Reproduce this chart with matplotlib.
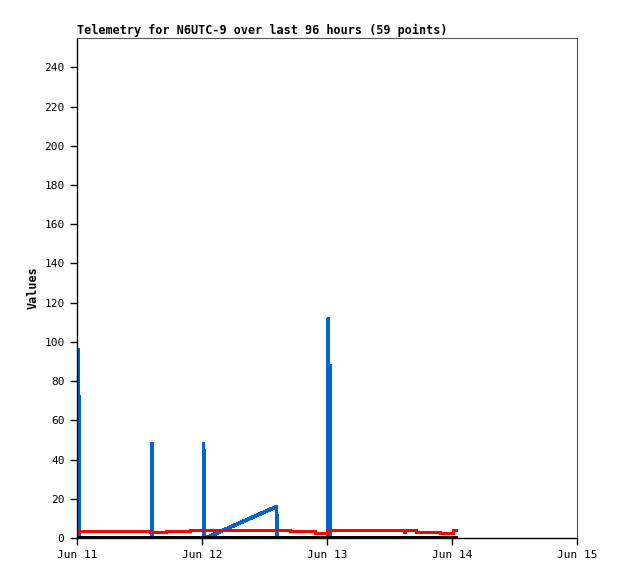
import pandas as pd
import matplotlib
matplotlib.use('Agg')
import matplotlib.pyplot as plt
import matplotlib.dates as mdates

START = pd.Timestamp('2023-06-11 00:00')

# hours since Jun 11 00:00 and values
BLUE_HOURS = [0.2, 0.2, 0.2, 0.5, 0.5, 0.5, 14.4, 14.4, 14.45,
              24.3, 24.3, 24.45, 24.75, 38.3, 38.35, 38.45,
              48.25, 48.25, 48.25, 48.55, 48.55, 48.55, 72.5]
BLUE_VALUES = [0, 96, 0, 0, 72, 0, 0, 48, 0,
               0, 48, 0, 0, 16, 8, 0,
               0, 112, 0, 0, 88, 0, 0]

RED_HOURS = [0.0, 14.1, 17.0, 21.6, 40.9, 45.6, 48.0, 62.8, 63.0, 65.1, 69.7, 72.2, 72.8]
RED_VALUES = [3.7, 2.9, 3.4, 3.9, 3.4, 2.7, 3.9, 3.2, 3.9, 3.2, 2.7, 3.9, 3.9]

BLACK_HOURS = [0.0, 72.5]
BLACK_VALUES = [0, 0]

TITLE = 'Telemetry for N6UTC-9 over last 96 hours (59 points)'


def to_times(hours):
    return [START + pd.Timedelta(hours=h) for h in hours]


plt.rcParams['font.family'] = ['DejaVu Sans Mono']
fig = plt.figure(figsize=(6.18, 5.79), dpi=100)
ax = fig.add_axes([77 / 618, 1 - 538 / 579, 500 / 618, 500 / 579])

ax.plot(to_times(BLUE_HOURS), BLUE_VALUES, color='#0066cc', lw=2.0, antialiased=False)
ax.plot(to_times(RED_HOURS), RED_VALUES, color='#ff0000', lw=2.0,
        drawstyle='steps-post', antialiased=False)
ax.plot(to_times(BLACK_HOURS), BLACK_VALUES, color='black', lw=2.5, antialiased=False)

ax.set_xlim(START, START + pd.Timedelta(days=4))
ax.set_ylim(0, 255)
ax.set_yticks(range(0, 241, 20))
ax.xaxis.set_major_locator(mdates.DayLocator())
ax.xaxis.set_major_formatter(mdates.DateFormatter('%b %d'))

for side in ['top', 'right']:
    ax.spines[side].set_color('#555555')
    ax.spines[side].set_linewidth(0.8)
for side in ['left', 'bottom']:
    ax.spines[side].set_color('black')
    ax.spines[side].set_linewidth(1.0)

ax.tick_params(axis='both', direction='out', length=5, width=1, labelsize=8, pad=4)
ax.set_ylabel('Values', fontsize=8.5, fontweight='bold', labelpad=3)
ax.set_title(TITLE, loc='left', fontsize=8.5, fontweight='bold', pad=3)

fig.savefig('out.png', dpi=100)
